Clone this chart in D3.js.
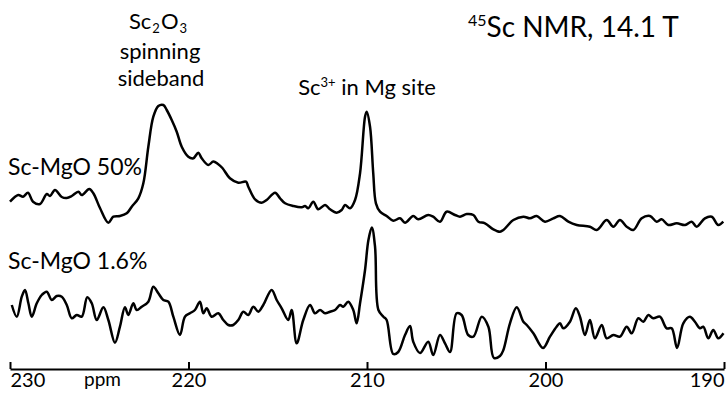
<!DOCTYPE html>
<html>
<head>
<meta charset="utf-8">
<script src="https://cdn.jsdelivr.net/npm/d3@7"></script>
<style>
  html, body { margin: 0; padding: 0; background: #fff; }
  svg { display: block; font-family: Lato, "Open Sans", "DejaVu Sans", sans-serif; }
</style>
</head>
<body>
<svg id="chart" width="727" height="395"></svg>
<script>
// 45Sc MAS NMR spectra of Sc-doped MgO (chemical shift in ppm, intensity in a.u.)

// Sc-MgO 50% trace
const ppm50 = [230.00,229.54,229.27,228.99,228.71,228.32,227.94,227.76,227.48,227.10,226.82,226.54,226.17,225.98,225.56,225.33,
  224.96,224.49,224.21,223.84,223.46,223.18,222.81,222.53,222.25,221.97,221.69,221.41,221.22,220.94,220.66,220.38,220.01,219.73,
  219.45,219.26,218.89,218.61,218.35,218.10,217.68,217.21,216.78,216.65,216.27,215.90,215.62,215.15,214.87,214.59,214.13,213.66,
  213.47,213.29,213.01,212.73,212.35,212.07,211.70,211.42,211.23,210.95,210.67,210.39,210.11,210.02,209.83,209.65,209.50,209.27,
  208.90,208.53,208.15,207.87,207.41,207.13,206.57,206.29,205.91,205.54,205.07,204.79,204.41,204.04,203.76,203.39,202.92,202.55,
  202.36,201.80,201.24,200.87,200.49,200.03,199.56,199.19,198.72,198.25,197.51,197.13,196.57,196.20,195.83,195.45,195.08,194.61,
  194.15,193.77,193.49,193.12,192.65,192.18,191.81,191.53,191.07,190.69,190.32,190.04];
const int50 = [18.3,25,23.3,27.3,18.3,16,26,24,30,23,22,24,28.3,25,31,26.7,
  12,-2.7,3.3,4,6.7,13.3,21.7,36.7,73.3,103.3,114,115,110,100,88.3,73.3,63.3,61.7,
  67.3,61.7,55,58.5,56,52,41.7,37.3,38.3,33.3,20.7,17.3,20,27.3,21.7,16.7,14,12.7,
  14,11.7,18.3,10.7,15,10.7,7.3,10,15,11.7,20,46.7,103.3,108.3,93.3,46.7,16.7,8.3,
  4,-0.7,1.7,-2.7,4,0.7,5,3.3,-1.7,8.3,5,3.3,6,5,-1.7,-3.3,-9.3,-11.7,
  -10,0,3.3,1.7,4,-1.7,1.7,4,-1.7,-5,-6.7,-10,0,-6.7,0,-6.7,-10,1.7,
  4,-1.7,0.7,-5,-3.3,-5,-1.7,-6.7,1.7,3.3,-5,-1.7];

// Sc-MgO 1.6% trace
const ppm16 = [229.90,229.62,229.34,229.16,228.97,228.78,228.50,228.22,227.94,227.66,227.38,227.10,226.82,226.54,226.26,225.98,
  225.67,225.42,225.14,224.77,224.49,224.12,223.84,223.56,223.37,223.09,222.90,222.62,222.25,221.97,221.69,221.41,221.13,220.85,
  220.48,220.20,219.92,219.64,219.36,219.17,218.98,218.70,218.33,218.05,217.77,217.49,217.21,216.93,216.65,216.37,216.09,215.81,
  215.34,215.06,214.78,214.41,214.22,213.94,213.57,213.19,212.91,212.63,212.35,212.07,211.79,211.51,211.33,211.05,210.77,210.58,
  210.39,210.11,209.92,209.73,209.55,209.36,209.08,208.90,208.53,208.25,207.87,207.59,207.41,207.03,206.57,206.29,205.91,205.63,
  205.35,204.98,204.70,204.33,204.04,203.57,203.20,202.89,202.55,202.36,201.99,201.61,201.24,201.05,200.68,200.14,199.75,199.38,
  199.19,199.00,198.63,198.30,198.07,197.79,197.51,197.23,196.85,196.57,196.20,195.83,195.45,195.17,194.80,194.52,194.24,193.96,
  193.59,193.21,192.93,192.63,192.28,191.91,191.63,191.35,191.16,190.88,190.60,190.32,190.03];
const int16 = [20,8.3,28.3,35,21.7,8.3,21.7,30,33.3,25,29,28.3,20,6.7,10,8.3,
  27.7,21.7,5,17.7,5,-17.7,-1.7,17.7,10,21.7,15,18.3,23.3,38.3,31.7,25,23.3,8.3,
  -10,8.3,11.7,15,23.3,11.7,16.7,8.3,11.7,5,0,0,5,13.3,10,18.3,13.3,20,
  35,25,16.7,5,15,-18.3,5,20,11.7,15,11.7,13.3,15,20,18.3,23.3,15,1.7,
  21.7,55,85,97.5,78.3,15,8.3,5,-29,-27,-10,-1,-16.7,-28,-16.7,-30,-10,-18.3,
  -27,11.7,10,-10,-11.7,8.3,-1.7,-33,-31,-25,1.7,17.7,3.3,0,-8.3,-23,-11.7,-1.7,
  1.7,-3.3,3.3,16.7,8.3,-10,5,-13.3,0,-13.3,-10,-11.7,-1.7,-8.3,6.7,3.3,10,6.7,
  8.3,-3.3,-3.3,-23,1.7,8.3,3.3,-3.3,-1.7,-13.3,-5,-13.3,-8.3];

// vertical stacking offsets (a.u.) for the two spectra
const seriesNames = ["Sc-MgO 50%", "Sc-MgO 1.6%"];
const offsets = [149, 44];

const axisTicks = [230, 220, 210, 200, 190];

const svg = d3.select("#chart");
const x = d3.scaleLinear().domain([230, 190]).range([10, 724]);
const y = d3.scaleLinear().domain([0, 300]).range([369, 69]);

const line = d3.line()
  .x(d => x(d[0]))
  .y(d => y(d[1]))
  .curve(d3.curveCatmullRom.alpha(0.5));

const traces = [
  d3.zip(ppm50, int50.map(v => v + offsets[0])),
  d3.zip(ppm16, int16.map(v => v + offsets[1]))
];

svg.append("g").selectAll("path")
  .data(traces)
  .join("path")
  .attr("d", line)
  .attr("fill", "none")
  .attr("stroke", "#000")
  .attr("stroke-width", 2.5)
  .attr("stroke-linejoin", "round");

// ppm axis with ticks pointing up
const axis = d3.axisBottom(x).tickValues(axisTicks).tickSizeOuter(0).tickSizeInner(0).tickPadding(0);
const gx = svg.append("g").attr("transform", "translate(0,369)").call(axis);
gx.select(".domain").attr("stroke", "#000").attr("stroke-width", 2);
gx.selectAll(".tick line").attr("y1", 0).attr("y2", -7).attr("stroke", "#000").attr("stroke-width", 2);
gx.selectAll(".tick text")
  .attr("font-family", "Lato, 'Open Sans', sans-serif")
  .attr("font-size", 20)
  .attr("fill", "#000")
  .attr("dy", null)
  .attr("y", 18)
  .attr("text-anchor", (d, i) => i === 0 ? "start" : (i === axisTicks.length - 1 ? "end" : "middle"));
svg.append("text").attr("x", 84).attr("y", 386).attr("font-size", 19).text("ppm");

// spectrum labels
svg.selectAll(".slabel")
  .data(seriesNames)
  .join("text")
  .attr("class", "slabel")
  .attr("x", 8)
  .attr("y", (d, i) => i === 0 ? 175 : 269)
  .attr("font-size", 23)
  .text(d => d);

// title
const title = svg.append("text").attr("x", 468).attr("y", 37).attr("font-size", 28);
title.append("tspan").attr("font-size", 16).attr("dy", -11).text("45");
title.append("tspan").attr("dy", 11).text("Sc NMR, 14.1 T");

// peak annotations
const a1 = svg.append("text").attr("x", 158).attr("y", 29).attr("font-size", 22).attr("text-anchor", "middle");
a1.append("tspan").text("Sc");
a1.append("tspan").attr("font-size", 13).attr("dx", 1).attr("dy", 4).text("2");
a1.append("tspan").attr("dx", 1).attr("dy", -4).text("O");
a1.append("tspan").attr("font-size", 13).attr("dx", 1).attr("dy", 4).text("3");
svg.append("text").attr("x", 160).attr("y", 59).attr("font-size", 22).attr("text-anchor", "middle").text("spinning");
svg.append("text").attr("x", 161).attr("y", 86).attr("font-size", 22).attr("text-anchor", "middle").text("sideband");

const a2 = svg.append("text").attr("x", 367).attr("y", 95).attr("font-size", 22).attr("text-anchor", "middle");
a2.append("tspan").text("Sc");
a2.append("tspan").attr("font-size", 13).attr("dy", -8).text("3+");
a2.append("tspan").attr("dy", 8).text(" in Mg site");
</script>
</body>
</html>
